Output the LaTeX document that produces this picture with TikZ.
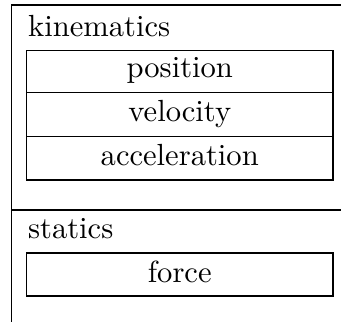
\documentclass[tikz,border=0pt]{standalone}
\usepackage{tikz}

\tikzset{
  itemtext/.style={anchor=base, inner sep=0.75pt, font=\normalsize},
  grouptext/.style={anchor=base west, inner sep=0pt, font=\normalsize},
  itembox/.style={line width=0.6pt},
}

\begin{document}
\begin{tikzpicture}[x=0.327pt,y=0.327pt,yscale=-1,xscale=1]
\useasboundingbox (0,0) rectangle (341,322);
%Straight Lines [id:outer frame] 
\draw  [line width=0.45pt]  (341,5) -- (11.5,5) -- (11.5,322) ;
%Straight Lines [id:divider] 
\draw  [line width=0.45pt]  (11.5,210) -- (341,210) ;
%Shape: Rectangle [id:position row] 
\draw  [itembox] (26.5,50.5) -- (333,50.5) -- (333,92.5) -- (26.5,92.5) -- cycle ;
%Shape: Rectangle [id:velocity row] 
\draw  [itembox] (26.5,92.5) -- (333,92.5) -- (333,136.5) -- (26.5,136.5) -- cycle ;
%Shape: Rectangle [id:acceleration row] 
\draw  [itembox] (26.5,136.5) -- (333,136.5) -- (333,180) -- (26.5,180) -- cycle ;
%Shape: Rectangle [id:force row] 
\draw  [itembox] (26.5,253) -- (333,253) -- (333,296) -- (26.5,296) -- cycle ;
% Text Node
\draw (27.5,36.5) node (kinematics) [grouptext] {kinematics};
% Text Node
\draw (179.75,77.5) node (position) [itemtext] {position};
% Text Node
\draw (179.75,121) node (velocity) [itemtext] {velocity};
% Text Node
\draw (179.75,165) node (acceleration) [itemtext] {acceleration};
% Text Node
\draw (27.5,238) node (statics) [grouptext] {statics};
% Text Node
\draw (179.75,282.5) node (force) [itemtext] {force};
\end{tikzpicture}
\end{document}
